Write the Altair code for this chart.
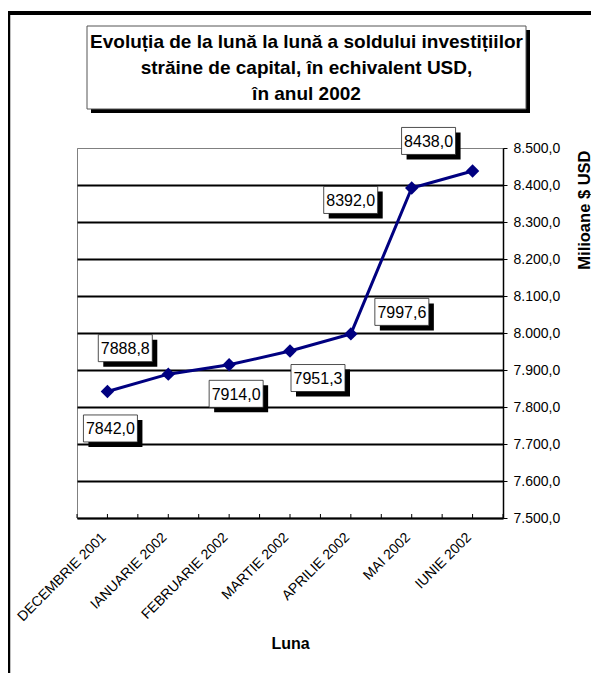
import json
import altair as alt
import pandas as pd

# ---- data ----
months = ["DECEMBRIE 2001", "IANUARIE 2002", "FEBRUARIE 2002", "MARTIE 2002",
          "APRILIE 2002", "MAI 2002", "IUNIE 2002"]
values = [7842.0, 7888.8, 7914.0, 7951.3, 7997.6, 8392.0, 8438.0]
y_ticks = [7500, 7600, 7700, 7800, 7900, 8000, 8100, 8200, 8300, 8400, 8500]
title_lines = ["Evoluția de la lună la lună a soldului investițiilor",
               "străine de capital, în echivalent USD,",
               "în anul 2002"]

# annotation placement (pixel offsets of each value box from its point)
label_dx = [3, -43, 7, 28, 51, -61, -44]
label_dy = [37, -26, 29, 27, -22, 12, -30]

df = pd.DataFrame({"idx": list(range(len(months))), "month": months, "value": values})
x_tick_pos = [i / 2 - 0.5 for i in range(2 * len(months) + 1)]
ticks_df = pd.DataFrame({"t": x_tick_pos})
one = pd.DataFrame({"a": [0]})

FONT = "Liberation Sans"
NAVY = "#000080"
W, H = 426, 370

x_enc = alt.X(
    "idx:Q",
    scale=alt.Scale(domain=[-0.5, len(months) - 0.5], nice=False, zero=False),
    axis=alt.Axis(
        values=list(range(len(months))), tickCount=len(months) + 2,
        labelExpr=json.dumps(months) + "[datum.value] || ''",
        labelAngle=315, labelAlign="right", labelBaseline="middle",
        labelFontSize=14, labelFont=FONT, labelColor="black",
        labelPadding=17, labelOffset=-4, labelOverlap=False, labelBound=False,
        ticks=False, grid=False,
        domainColor="black", domainWidth=1.5,
        title="Luna", titleFont=FONT, titleFontSize=16, titleFontWeight="bold",
        titleColor="black", titleY=125, titleBaseline="middle",
    ),
)
y_enc = alt.Y(
    "value:Q",
    scale=alt.Scale(domain=[7500, 8500], nice=False, zero=False),
    axis=alt.Axis(
        orient="right", values=y_ticks, tickCount=len(y_ticks) + 2,
        labelExpr="replace(replace(replace(format(datum.value, ',.1f'), ',', '_'), '.', ','), '_', '.')",
        labelFontSize=14, labelFont=FONT, labelColor="black", labelPadding=6,
        labelOverlap=False, labelBound=False,
        tickSize=4, tickColor="black", tickWidth=1,
        domainColor="black", domainWidth=1.5,
        grid=True,
        gridColor={"condition": {"test": "datum.value === 8500", "value": "#808080"}, "value": "black"},
        gridWidth={"condition": {"test": "datum.value === 8500", "value": 1}, "value": 2},
        title="Milioane $ USD", titleFont=FONT, titleFontSize=16.5, titleFontWeight="bold",
        titleColor="black", titleAngle=270, titleX=81, titleY=2,
        titleAlign="right", titleBaseline="middle",
    ),
)

base = alt.Chart(df)

line = base.mark_line(color=NAVY, strokeWidth=3).encode(x=x_enc, y=y_enc)
points = base.mark_point(shape="diamond", filled=True, size=180, color=NAVY, opacity=1).encode(
    x="idx:Q", y="value:Q")

inner_ticks = alt.Chart(ticks_df).mark_rule(color="black", strokeWidth=1).encode(
    x="t:Q", y=alt.value(H), y2=alt.value(H - 4))

BOX = "M-1,-0.5L1,-0.5L1,0.5L-1,0.5Z"
label_layers = []
for i in range(len(months)):
    sub = base.transform_filter(alt.datum.idx == i).transform_calculate(
        lab="replace(format(datum.value, '.1f'), '.', ',')")
    dx, dy = label_dx[i], label_dy[i]
    shadow = sub.mark_point(shape=BOX, size=2916, filled=True, fill="black", strokeWidth=0,
                            opacity=1, xOffset=dx + 5, yOffset=dy + 5).encode(x="idx:Q", y="value:Q")
    box = sub.mark_point(shape=BOX, size=2916, filled=True, fill="white", stroke="#222222",
                         strokeWidth=0.8, opacity=1, xOffset=dx, yOffset=dy).encode(x="idx:Q", y="value:Q")
    txt = sub.mark_text(font=FONT, fontSize=16, color="black", dx=dx, dy=dy + 1,
                        baseline="middle", align="center").encode(x="idx:Q", y="value:Q", text="lab:N")
    label_layers += [shadow, box, txt]

# title box decoration
deco = alt.Chart(one)
title_shadow = deco.mark_rect(color="black").encode(
    x=alt.value(14), x2=alt.value(453), y=alt.value(-118), y2=alt.value(-35))
title_box = deco.mark_rect(fill="white", stroke="#555555", strokeWidth=1).encode(
    x=alt.value(10), x2=alt.value(449), y=alt.value(-122), y2=alt.value(-39))
title_text = deco.mark_text(text=title_lines, font=FONT, fontSize=19, fontWeight="bold",
                            color="black", align="center", baseline="alphabetic",
                            lineHeight=26).encode(x=alt.value(229.5), y=alt.value(-100))
frame_top = deco.mark_rule(color="black", strokeWidth=4).encode(
    x=alt.value(-70), x2=alt.value(W + 90), y=alt.value(-135))
frame_left = deco.mark_rule(color="black", strokeWidth=2.5).encode(
    x=alt.value(-68), y=alt.value(-137), y2=alt.value(H + 160))

chart = alt.layer(
    line, inner_ticks, points, *label_layers,
    frame_top, frame_left, title_shadow, title_box, title_text,
).properties(
    width=W, height=H,
    autosize=alt.AutoSizeParams(type="none"),
    padding={"left": 69, "top": 140, "right": 88, "bottom": 155},
).configure(font=FONT).configure_view(stroke="#808080", strokeWidth=1)

chart.save("out.html", embed_options={"renderer": "svg", "actions": False})
